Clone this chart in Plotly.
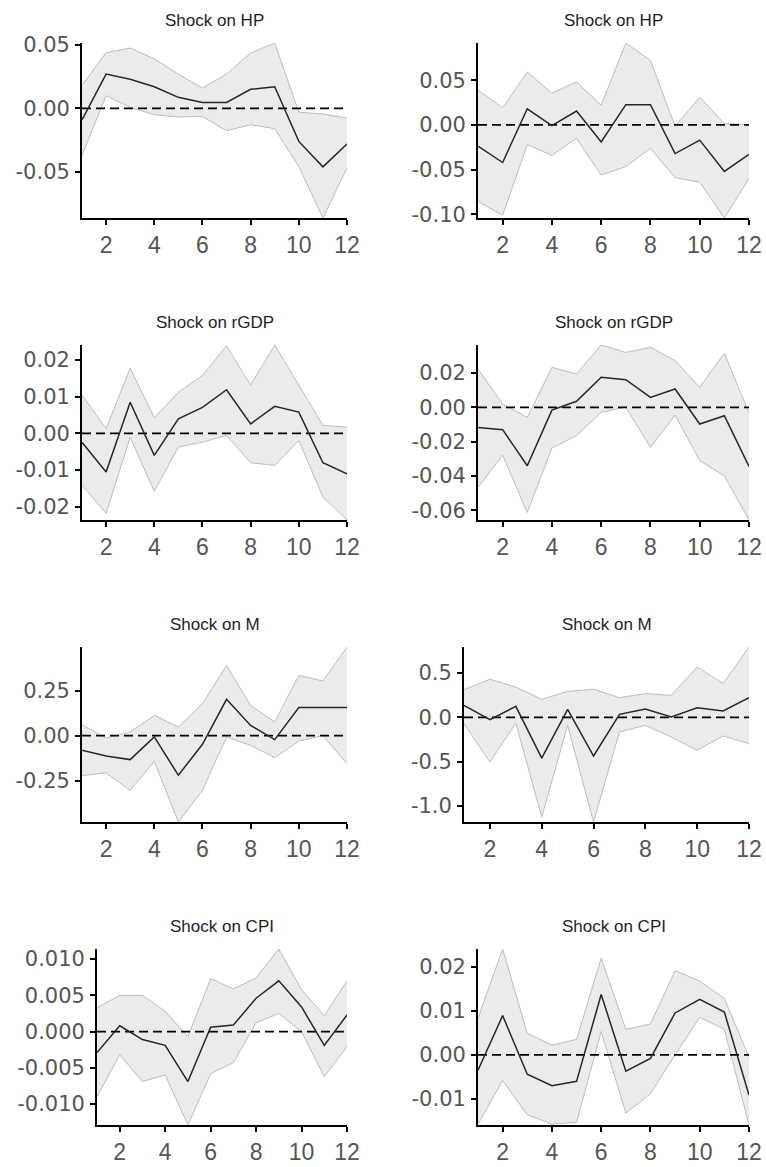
import plotly.graph_objects as go

steps = list(range(1, 13))
x_ticks = [2, 4, 6, 8, 10, 12]

titles = ["Shock on HP", "Shock on HP", "Shock on rGDP", "Shock on rGDP",
          "Shock on M", "Shock on M", "Shock on CPI", "Shock on CPI"]

# impulse responses (point estimate with lower / upper bands)
hp_l_mean = [-0.009, 0.027, 0.023, 0.017, 0.0087, 0.0047, 0.0047, 0.015, 0.017, -0.026, -0.046, -0.028]
hp_l_upper = [0.018, 0.044, 0.0475, 0.039, 0.027, 0.016, 0.027, 0.0436, 0.0515, -0.003, -0.0044, -0.0076]
hp_l_lower = [-0.037, 0.010, 0.0008, -0.005, -0.0068, -0.0063, -0.0176, -0.0128, -0.016, -0.0457, -0.0863, -0.047]

hp_r_mean = [-0.0237, -0.042, 0.018, -0.0007, 0.0155, -0.019, 0.0226, 0.0226, -0.032, -0.017, -0.052, -0.033]
hp_r_upper = [0.039, 0.019, 0.059, 0.0355, 0.048, 0.022, 0.0915, 0.072, -0.0015, 0.031, 0.0015, 0.0004]
hp_r_lower = [-0.0855, -0.101, -0.022, -0.034, -0.015, -0.056, -0.0466, -0.026, -0.059, -0.064, -0.104, -0.0596]

gdp_l_mean = [-0.0024, -0.0105, 0.0085, -0.006, 0.004, 0.0071, 0.0119, 0.0026, 0.0074, 0.0058, -0.008, -0.011]
gdp_l_upper = [0.0105, 0.0013, 0.0178, 0.0043, 0.0112, 0.0158, 0.0239, 0.0132, 0.0241, 0.013, 0.0022, 0.0017]
gdp_l_lower = [-0.0141, -0.0218, -0.001, -0.0158, -0.0037, -0.0024, -0.0005, -0.008, -0.0087, -0.0019, -0.0173, -0.0236]

gdp_r_mean = [-0.0117, -0.013, -0.034, -0.0016, 0.0035, 0.0175, 0.0161, 0.0058, 0.0107, -0.0097, -0.0049, -0.0344]
gdp_r_upper = [0.0223, 0.0019, -0.0058, 0.0233, 0.0194, 0.0363, 0.032, 0.035, 0.0272, 0.0117, 0.0315, -0.0033]
gdp_r_lower = [-0.0466, -0.0278, -0.0612, -0.0237, -0.0165, -0.0029, 0.0, -0.0233, -0.0045, -0.031, -0.0398, -0.0656]

m_l_mean = [-0.081, -0.113, -0.133, -0.007, -0.22, -0.048, 0.202, 0.057, -0.022, 0.156, 0.156, 0.156]
m_l_upper = [0.061, -0.013, 0.02, 0.113, 0.048, 0.178, 0.39, 0.168, 0.076, 0.335, 0.304, 0.493]
m_l_lower = [-0.222, -0.207, -0.304, -0.143, -0.48, -0.304, -0.007, -0.054, -0.122, -0.03, 0.0, -0.156]

m_r_mean = [0.135, -0.026, 0.124, -0.459, 0.09, -0.436, 0.034, 0.094, 0.004, 0.109, 0.071, 0.222]
m_r_upper = [0.312, 0.429, 0.342, 0.203, 0.293, 0.316, 0.222, 0.267, 0.248, 0.568, 0.38, 0.793]
m_r_lower = [-0.071, -0.504, -0.064, -1.124, -0.09, -1.18, -0.165, -0.09, -0.222, -0.372, -0.21, -0.297]

cpi_l_mean = [-0.0029, 0.0008, -0.0011, -0.0019, -0.0069, 0.0006, 0.0009, 0.0046, 0.007, 0.0034, -0.0019, 0.0023]
cpi_l_upper = [0.0033, 0.005, 0.005, 0.0028, -0.0007, 0.0073, 0.0059, 0.0074, 0.0114, 0.0058, 0.0022, 0.007]
cpi_l_lower = [-0.009, -0.0032, -0.0069, -0.006, -0.0129, -0.0058, -0.0043, 0.0012, 0.0025, 0.0, -0.0062, -0.0021]

cpi_r_mean = [-0.0035, 0.0089, -0.0044, -0.007, -0.006, 0.0137, -0.0037, -0.0008, 0.0095, 0.0126, 0.0097, -0.0091]
cpi_r_upper = [0.0083, 0.024, 0.0049, 0.0022, 0.0035, 0.0219, 0.0058, 0.007, 0.0191, 0.0167, 0.0128, -0.0005]
cpi_r_lower = [-0.0157, -0.0058, -0.0136, -0.0157, -0.0153, 0.0053, -0.0132, -0.0088, 0.0, 0.0085, 0.0058, -0.0159]

# y tick values and labels for each panel
hp_l_yticks = [-0.05, 0.0, 0.05]
hp_l_ylabels = ["-0.05", "0.00", "0.05"]
hp_r_yticks = [-0.10, -0.05, 0.0, 0.05]
hp_r_ylabels = ["-0.10", "-0.05", "0.00", "0.05"]
gdp_l_yticks = [-0.02, -0.01, 0.0, 0.01, 0.02]
gdp_l_ylabels = ["-0.02", "-0.01", "0.00", "0.01", "0.02"]
gdp_r_yticks = [-0.06, -0.04, -0.02, 0.0, 0.02]
gdp_r_ylabels = ["-0.06", "-0.04", "-0.02", "0.00", "0.02"]
m_l_yticks = [-0.25, 0.0, 0.25]
m_l_ylabels = ["-0.25", "0.00", "0.25"]
m_r_yticks = [-1.0, -0.5, 0.0, 0.5]
m_r_ylabels = ["-1.0", "-0.5", "0.0", "0.5"]
cpi_l_yticks = [-0.010, -0.005, 0.0, 0.005, 0.010]
cpi_l_ylabels = ["-0.010", "-0.005", "0.000", "0.005", "0.010"]
cpi_r_yticks = [-0.01, 0.0, 0.01, 0.02]
cpi_r_ylabels = ["-0.01", "0.00", "0.01", "0.02"]

series = [
    (hp_l_mean, hp_l_lower, hp_l_upper, hp_l_yticks, hp_l_ylabels),
    (hp_r_mean, hp_r_lower, hp_r_upper, hp_r_yticks, hp_r_ylabels),
    (gdp_l_mean, gdp_l_lower, gdp_l_upper, gdp_l_yticks, gdp_l_ylabels),
    (gdp_r_mean, gdp_r_lower, gdp_r_upper, gdp_r_yticks, gdp_r_ylabels),
    (m_l_mean, m_l_lower, m_l_upper, m_l_yticks, m_l_ylabels),
    (m_r_mean, m_r_lower, m_r_upper, m_r_yticks, m_r_ylabels),
    (cpi_l_mean, cpi_l_lower, cpi_l_upper, cpi_l_yticks, cpi_l_ylabels),
    (cpi_r_mean, cpi_r_lower, cpi_r_upper, cpi_r_yticks, cpi_r_ylabels),
]

# page geometry (pixels)
W, H = 766, 1167
row_px = [(43, 218), (345, 520), (647, 822), (949, 1125)]
col_px = {
    (0, 0): (82, 347), (1, 0): (82, 347), (2, 0): (82, 347), (3, 0): (97, 347),
    (0, 1): (478, 749), (1, 1): (478, 749), (2, 1): (464, 749), (3, 1): (478, 749),
}

BAND_FILL = "#EBEBEB"
BAND_EDGE = "#BDBDBD"
MEAN_COLOR = "#262626"
TICK_COLOR = "#555555"

fig = go.Figure()
layout = dict(
    width=W, height=H, margin=dict(l=0, r=0, t=0, b=0, autoexpand=False),
    paper_bgcolor="white", plot_bgcolor="white", showlegend=False,
)
annotations = []

for i, (mean, lower, upper, yt, yl) in enumerate(series):
    r, c = divmod(i, 2)
    n = i + 1
    xa = "x" if n == 1 else f"x{n}"
    ya = "y" if n == 1 else f"y{n}"
    x0, x1 = col_px[(r, c)]
    top, bot = row_px[r]

    fig.add_trace(go.Scatter(x=steps, y=lower, mode="lines", xaxis=xa, yaxis=ya,
                             line=dict(color=BAND_EDGE, width=1), hoverinfo="skip"))
    fig.add_trace(go.Scatter(x=steps, y=upper, mode="lines", xaxis=xa, yaxis=ya,
                             fill="tonexty", fillcolor=BAND_FILL,
                             line=dict(color=BAND_EDGE, width=1), hoverinfo="skip"))
    fig.add_trace(go.Scatter(x=[steps[0], steps[-1]], y=[0, 0], mode="lines",
                             xaxis=xa, yaxis=ya,
                             line=dict(color="black", width=1.8, dash="9px,5px"),
                             hoverinfo="skip"))
    fig.add_trace(go.Scatter(x=steps, y=mean, mode="lines", xaxis=xa, yaxis=ya,
                             line=dict(color=MEAN_COLOR, width=1.5)))

    ymin = min(lower)
    ymax = max(upper)
    xkey = "xaxis" if n == 1 else f"xaxis{n}"
    ykey = "yaxis" if n == 1 else f"yaxis{n}"
    layout[xkey] = dict(
        domain=[x0 / W, x1 / W], anchor=ya, range=[1, 12], automargin=False,
        showgrid=False, zeroline=False, showline=True, linecolor="black", linewidth=1.8,
        ticks="outside", ticklen=5, tickwidth=1.5, tickcolor="black",
        tickvals=x_ticks, ticktext=[str(v) for v in x_ticks],
        tickfont=dict(family="Liberation Sans, Arial", size=23, color=TICK_COLOR),
        ticklabelstandoff=0, fixedrange=True,
    )
    layout[ykey] = dict(
        domain=[1 - bot / H, 1 - top / H], anchor=xa, range=[ymin, ymax], automargin=False,
        showgrid=False, zeroline=False, showline=True, linecolor="black", linewidth=1.8,
        ticks="outside", ticklen=5, tickwidth=1.5, tickcolor="black",
        tickvals=yt, ticktext=yl,
        tickfont=dict(family="DejaVu Sans", size=21, color=TICK_COLOR),
        ticklabelstandoff=1, fixedrange=True,
    )
    annotations.append(dict(
        text=titles[i], xref="paper", yref="paper",
        x=(x0 + x1) / 2 / W, y=1 - (top - 23) / H,
        xanchor="center", yanchor="middle", showarrow=False,
        font=dict(family="Liberation Sans, Arial", size=17, color="#1E1E1E"),
    ))

layout["annotations"] = annotations
fig.update_layout(**layout)
fig.write_html(
    "out.html",
    post_script="document.body.style.margin='0';document.body.style.overflow='hidden';",
)
